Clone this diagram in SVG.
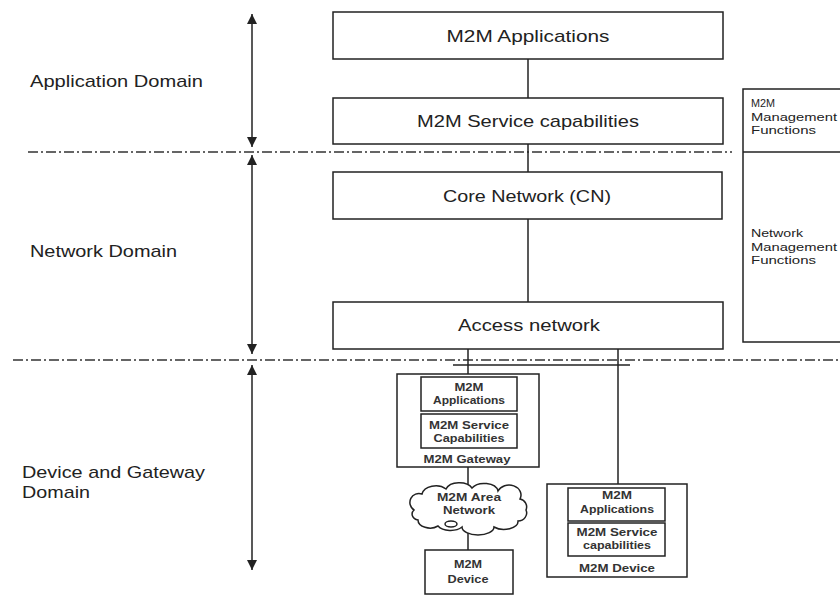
<svg xmlns="http://www.w3.org/2000/svg" width="840" height="595" viewBox="0 0 840 595">
<defs>
<style>
.box{fill:#fff;stroke:#222;stroke-width:1.5}
.ln{stroke:#222;stroke-width:1.5;fill:none}
.dd{stroke:#333;stroke-width:1.3;fill:none;stroke-dasharray:10 3 2 3}
.big{font-family:"Liberation Sans",Arial,sans-serif;font-size:17px;fill:#222;text-anchor:middle}
.lbl{font-family:"Liberation Sans",Arial,sans-serif;font-size:17px;fill:#222}
.sm{font-family:"Liberation Sans",Arial,sans-serif;font-size:11.5px;font-weight:bold;fill:#333;text-anchor:middle}
.rt{font-family:"Liberation Sans",Arial,sans-serif;font-size:11px;fill:#222}
</style>
<marker id="ah" viewBox="0 0 10 10" refX="10" refY="5" markerWidth="10" markerHeight="10" markerUnits="userSpaceOnUse" orient="auto-start-reverse">
<path d="M0,0 L10,5 L0,10 z" fill="#222"/>
</marker>
</defs>
<rect width="840" height="595" fill="#fff"/>

<g id="domain-separators">
<line class="dd" x1="28" y1="152" x2="732" y2="152"/>
<line class="dd" x1="13" y1="360" x2="840" y2="360"/>
</g>

<g id="domain-labels">
<text class="lbl" x="30" y="87" textLength="173" lengthAdjust="spacingAndGlyphs">Application Domain</text>
<text class="lbl" x="30" y="257" textLength="147" lengthAdjust="spacingAndGlyphs">Network Domain</text>
<text class="lbl" x="22" y="478" textLength="183" lengthAdjust="spacingAndGlyphs">Device and Gateway</text>
<text class="lbl" x="22" y="498" textLength="68" lengthAdjust="spacingAndGlyphs">Domain</text>
</g>

<g id="connectors">
<line class="ln" x1="252" y1="14" x2="252" y2="147" marker-start="url(#ah)" marker-end="url(#ah)"/>
<line class="ln" x1="252" y1="155" x2="252" y2="354" marker-start="url(#ah)" marker-end="url(#ah)"/>
<line class="ln" x1="252" y1="365" x2="252" y2="570" marker-start="url(#ah)" marker-end="url(#ah)"/>
<line class="ln" x1="528" y1="59" x2="528" y2="98"/>
<line class="ln" x1="528" y1="144" x2="528" y2="172"/>
<line class="ln" x1="528" y1="219" x2="528" y2="302"/>
<line class="ln" x1="468" y1="349" x2="468" y2="374"/>
<line class="ln" x1="618" y1="349" x2="618" y2="484"/>
<line class="ln" x1="453" y1="365" x2="630" y2="365"/>
<line class="ln" x1="468" y1="467" x2="468" y2="489"/>
<line class="ln" x1="468" y1="527" x2="468" y2="550"/>
</g>

<g id="m2m-applications">
<rect class="box" x="333" y="12" width="390" height="47"/>
<text class="big" x="528" y="42" textLength="163" lengthAdjust="spacingAndGlyphs">M2M Applications</text>
</g>

<g id="m2m-service-capabilities">
<rect class="box" x="333" y="98" width="390" height="46"/>
<text class="big" x="528" y="127" textLength="222" lengthAdjust="spacingAndGlyphs">M2M Service capabilities</text>
</g>

<g id="core-network">
<rect class="box" x="333" y="172" width="389" height="47"/>
<text class="big" x="527" y="202" textLength="168" lengthAdjust="spacingAndGlyphs">Core Network (CN)</text>
</g>

<g id="access-network">
<rect class="box" x="333" y="302" width="390" height="47"/>
<text class="big" x="529" y="331" textLength="142" lengthAdjust="spacingAndGlyphs">Access network</text>
</g>

<g id="management-functions">
<path class="ln" d="M840,89 L743,89 L743,342 L840,342"/>
<line class="ln" x1="743" y1="152" x2="840" y2="152"/>
<text class="rt" x="751" y="107" textLength="24" lengthAdjust="spacingAndGlyphs">M2M</text>
<text class="rt" x="751" y="121" textLength="86" lengthAdjust="spacingAndGlyphs">Management</text>
<text class="rt" x="751" y="134" textLength="65" lengthAdjust="spacingAndGlyphs">Functions</text>
<text class="rt" x="751" y="237" textLength="52" lengthAdjust="spacingAndGlyphs">Network</text>
<text class="rt" x="751" y="251" textLength="86" lengthAdjust="spacingAndGlyphs">Management</text>
<text class="rt" x="751" y="264" textLength="65" lengthAdjust="spacingAndGlyphs">Functions</text>
</g>

<g id="m2m-gateway">
<rect class="box" x="397" y="374" width="142" height="93"/>
<rect class="box" x="421" y="377" width="96" height="34"/>
<rect class="box" x="421" y="414" width="96" height="34"/>
<text class="sm" x="469" y="391" textLength="29" lengthAdjust="spacingAndGlyphs">M2M</text>
<text class="sm" x="469" y="404" textLength="72" lengthAdjust="spacingAndGlyphs">Applications</text>
<text class="sm" x="469" y="429" textLength="80" lengthAdjust="spacingAndGlyphs">M2M Service</text>
<text class="sm" x="469" y="442" textLength="71" lengthAdjust="spacingAndGlyphs">Capabilities</text>
<text class="sm" x="467" y="463" textLength="87" lengthAdjust="spacingAndGlyphs">M2M Gateway</text>
</g>

<g id="m2m-area-network">
<path class="box" d="M414,510 A9,9 0 0 1 422,494 A14,10 0 0 1 446,489 A14,9 0 0 1 472,488 A14,9 0 0 1 498,491 A12,10 0 0 1 520,499 A8,8 0 0 1 526,510 A9,8 0 0 1 518,521 A14,8 0 0 1 494,527 A16,8 0 0 1 462,527 A14,8 0 0 1 438,526 A12,8 0 0 1 418,520 A7,6 0 0 1 414,510 Z"/>
<ellipse class="ln" cx="451" cy="524" rx="6" ry="3"/>
<text class="sm" x="469" y="501" textLength="64" lengthAdjust="spacingAndGlyphs">M2M Area</text>
<text class="sm" x="469" y="514" textLength="52" lengthAdjust="spacingAndGlyphs">Network</text>
</g>

<g id="m2m-device-1">
<rect class="box" x="425" y="550" width="88" height="44"/>
<text class="sm" x="468" y="568" textLength="28" lengthAdjust="spacingAndGlyphs">M2M</text>
<text class="sm" x="468" y="583" textLength="41" lengthAdjust="spacingAndGlyphs">Device</text>
</g>

<g id="m2m-device-2">
<rect class="box" x="547" y="484" width="140" height="93"/>
<rect class="box" x="568" y="488" width="97" height="33"/>
<rect class="box" x="568" y="523" width="97" height="33"/>
<text class="sm" x="617" y="499" textLength="30" lengthAdjust="spacingAndGlyphs">M2M</text>
<text class="sm" x="617" y="513" textLength="74" lengthAdjust="spacingAndGlyphs">Applications</text>
<text class="sm" x="617" y="536" textLength="81" lengthAdjust="spacingAndGlyphs">M2M Service</text>
<text class="sm" x="617" y="549" textLength="68" lengthAdjust="spacingAndGlyphs">capabilities</text>
<text class="sm" x="617" y="572" textLength="76" lengthAdjust="spacingAndGlyphs">M2M Device</text>
</g>
</svg>
